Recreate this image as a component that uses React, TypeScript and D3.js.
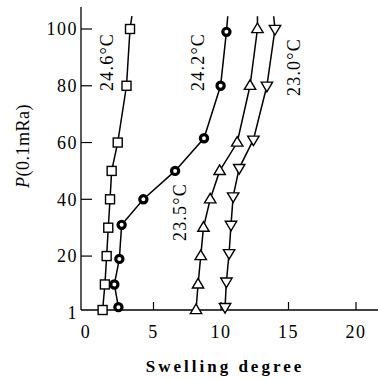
import React from "react";
import * as d3 from "d3";

const pressures = [1, 10, 20, 30, 40, 50, 60, 80, 100];
const s246 = [1.23, 1.4, 1.53, 1.65, 1.78, 1.9, 2.35, 3.0, 3.26];
const p242 = [2, 10, 19, 31, 40, 50, 61.5, 80, 99];
const s242 = [2.4, 2.1, 2.47, 2.64, 4.25, 6.6, 8.74, 9.97, 10.4];
const s235 = [8.15, 8.3, 8.5, 8.7, 9.2, 9.9, 11.2, 12.15, 12.7];
const p230 = [2, 11, 21, 31, 41, 51, 61, 80, 100];
const s230 = [10.3, 10.4, 10.6, 10.74, 10.9, 11.35, 12.4, 13.4, 14.0];
// where each curve's line ends above the last marker
const topP = 104.5;
const topX = [3.4, 10.5, 12.7, 13.9];

const xTicks = [0, 5, 10, 15, 20];
const yTicks = [1, 20, 40, 60, 80, 100];
const labels = ["24.6°C", "24.2°C", "23.5°C", "23.0°C"];
const labelPos = [
  [1.56, 88.4],
  [8.3, 88.4],
  [6.96, 35.5],
  [15.4, 86.6],
];

const W = 378;
const H = 380;
const x = d3.scaleLinear().domain([0, 20]).range([86, 356]);
const y = d3.scaleLinear().domain([1, 100]).range([310, 29]);
const font = "'Liberation Serif', 'DejaVu Serif', serif";

export default function App() {
  const line = d3
    .line<[number, number]>()
    .x((d) => x(d[0]))
    .y((d) => y(d[1]));

  const series = [
    { xs: s246, ps: pressures, kind: "square" },
    { xs: s242, ps: p242, kind: "circle" },
    { xs: s235, ps: pressures, kind: "up" },
    { xs: s230, ps: p230, kind: "down" },
  ];

  const x0 = x.invert(81);
  const x1 = x.invert(378);
  const yTop = y.invert(7);

  const marker = (kind: string, cx: number, cy: number, k: string) => {
    if (kind === "square")
      return (
        <rect key={k} x={cx - 4.5} y={cy - 4.5} width={9} height={9} fill="#fff" stroke="#000" strokeWidth={1.4} />
      );
    if (kind === "circle")
      return <circle key={k} cx={cx} cy={cy} r={3.6} fill="#fff" stroke="#000" strokeWidth={3.2} />;
    const s = 6;
    const pts =
      kind === "up"
        ? [[cx, cy - s], [cx - s * 0.95, cy + s * 0.6], [cx + s * 0.95, cy + s * 0.6]]
        : [[cx, cy + s], [cx - s * 0.95, cy - s * 0.6], [cx + s * 0.95, cy - s * 0.6]];
    return (
      <polygon key={k} points={pts.map((p) => p.join(",")).join(" ")} fill="#fff" stroke="#000" strokeWidth={1.4} />
    );
  };

  return (
    <svg width={W} height={H} style={{ position: "absolute", left: 0, top: 0, background: "#fff" }}>
      <rect width={W} height={H} fill="#fff" />
      {/* axes */}
      <line x1={x(x0)} x2={x(x0)} y1={y(yTop)} y2={y(1)} stroke="#000" strokeWidth={1.3} />
      <line x1={x(x0)} x2={x(x1)} y1={y(1)} y2={y(1)} stroke="#000" strokeWidth={1.5} />
      {yTicks.slice(1).map((t) => (
        <line key={"yt" + t} x1={x(x0)} x2={x(x0) + 11} y1={y(t)} y2={y(t)} stroke="#000" strokeWidth={1.2} />
      ))}
      {xTicks.slice(1).map((t) => (
        <line key={"xt" + t} x1={x(t)} x2={x(t)} y1={y(1)} y2={y(1) - 8} stroke="#000" strokeWidth={1.2} />
      ))}
      {yTicks.map((t) => (
        <text
          key={"yl" + t}
          x={78}
          y={t === 1 ? y(t) + 3 : y(t)}
          dy="0.35em"
          textAnchor="end"
          fontFamily={font}
          fontSize={18}
          letterSpacing={1.5}
        >
          {t}
        </text>
      ))}
      {xTicks.map((t) => (
        <text
          key={"xl" + t}
          x={x(t)}
          y={332}
          dy="0.35em"
          textAnchor="middle"
          fontFamily={font}
          fontSize={18}
          letterSpacing={1.5}
        >
          {t}
        </text>
      ))}
      <text x={225} y={366} dy="0.35em" textAnchor="middle" fontFamily={font} fontSize={17} fontWeight="bold" letterSpacing={3}>
        Swelling degree
      </text>
      <text
        transform={`translate(23,146) rotate(-90)`}
        textAnchor="middle"
        dy="0.35em"
        fontFamily={font}
        fontSize={18}
        letterSpacing={0.5}
      >
        <tspan fontStyle="italic">P</tspan>(0.1mRa)
      </text>
      {/* curves */}
      {series.map((s, i) => {
        const pts: [number, number][] = s.xs.map((v, j) => [v, s.ps[j]] as [number, number]);
        pts.push([topX[i], topP]);
        return <path key={"l" + i} d={line(pts) || ""} fill="none" stroke="#000" strokeWidth={1.5} />;
      })}
      {series.map((s, i) => s.xs.map((v, j) => marker(s.kind, x(v), y(s.ps[j]), `m${i}-${j}`)))}
      {labels.map((l, i) => (
        <text
          key={"lab" + i}
          transform={`translate(${x(labelPos[i][0])},${y(labelPos[i][1])}) rotate(-90)`}
          textAnchor="middle"
          dy="0.35em"
          fontFamily={font}
          fontSize={18}
          letterSpacing={1.2}
        >
          {l}
        </text>
      ))}
    </svg>
  );
}
